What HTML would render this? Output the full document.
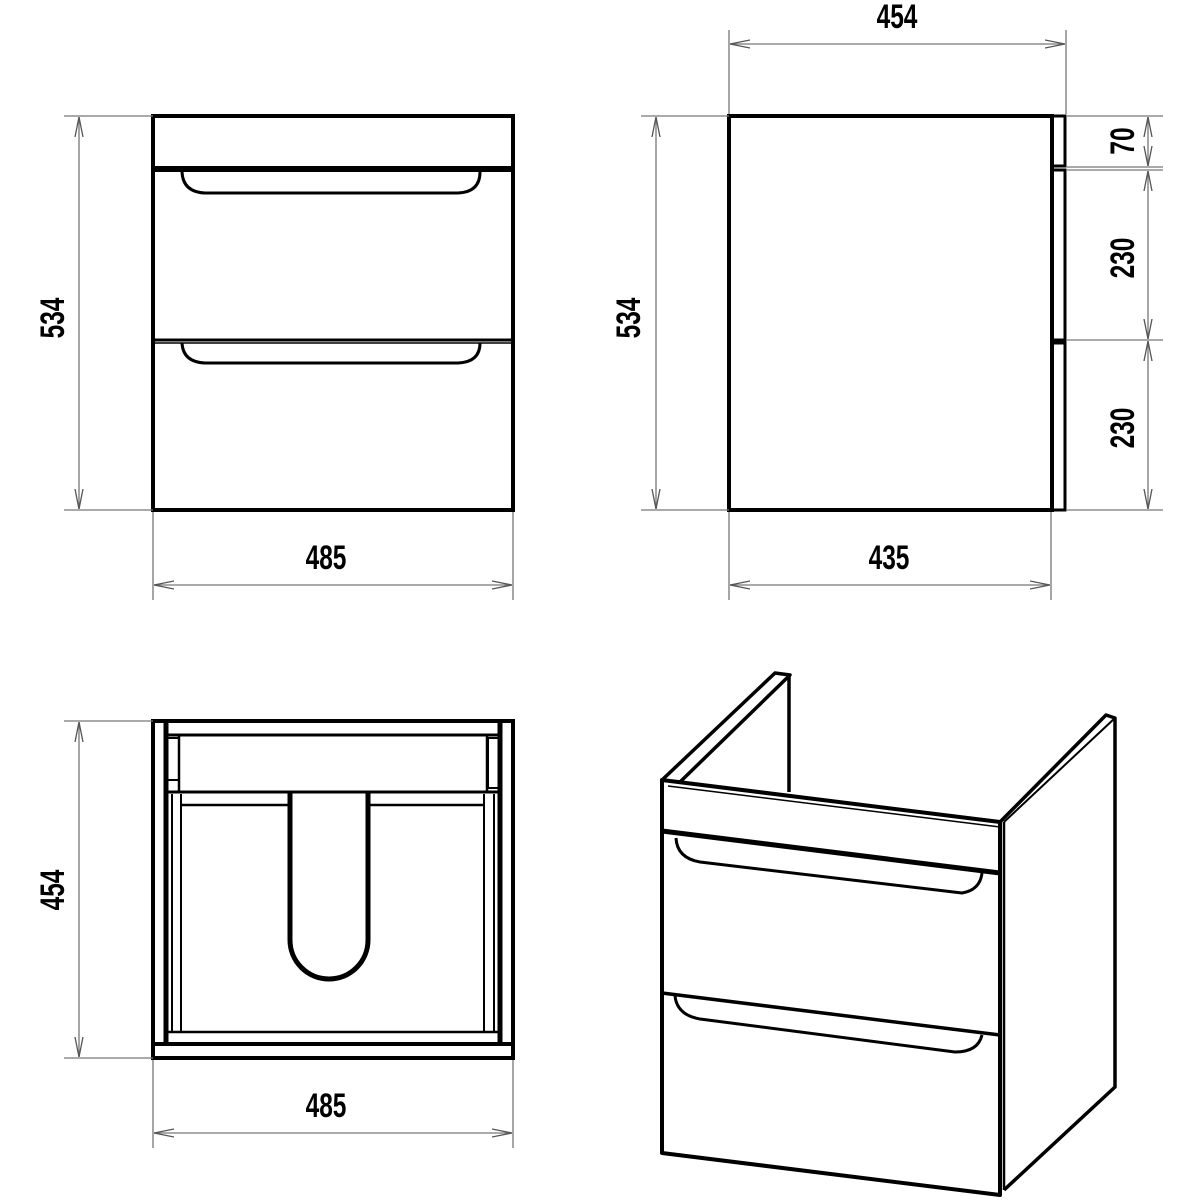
<!DOCTYPE html>
<html><head><meta charset="utf-8"><style>
html,body{margin:0;padding:0;background:#fff}
svg{display:block}
.t{font-family:"Liberation Sans",sans-serif;font-weight:bold;font-size:34px;fill:#000}
.d{stroke:#777;stroke-width:1.3;fill:none}
.k{stroke:#000;fill:none;stroke-width:4}
.k3{stroke:#000;fill:none;stroke-width:3}
</style></head><body>
<svg width="1200" height="1200" viewBox="0 0 1200 1200" xmlns="http://www.w3.org/2000/svg">
<defs>
<marker id="a" viewBox="0 0 20 10" refX="20" refY="5" markerWidth="20" markerHeight="10" orient="auto-start-reverse" markerUnits="userSpaceOnUse">
<path d="M0 1 L20 5 L0 9" fill="none" stroke="#555" stroke-width="1.3"/></marker>
</defs>

<!-- FRONT VIEW -->
<rect class="k" x="153" y="116" width="360" height="394"/>
<line x1="153" y1="169" x2="513" y2="169" stroke="#000" stroke-width="6"/>
<line x1="153" y1="340" x2="513" y2="340" stroke="#000" stroke-width="3"/>
<line x1="153" y1="343" x2="513" y2="343" stroke="#000" stroke-width="1.5"/>
<path class="k3" d="M182 172 Q183 192 205 193 L458 193 Q480 192 480 172"/>
<path class="k3" d="M182 343 Q183 362 205 363 L458 363 Q480 362 480 343"/>
<!-- dims -->
<line class="d" x1="64" y1="116" x2="153" y2="116"/>
<line class="d" x1="64" y1="510" x2="153" y2="510"/>
<line class="d" x1="79" y1="117" x2="79" y2="509" marker-start="url(#a)" marker-end="url(#a)"/>
<text class="t" transform="translate(64,318) rotate(-90) scale(0.72,1)" text-anchor="middle">534</text>
<line class="d" x1="153" y1="512" x2="153" y2="600"/>
<line class="d" x1="513" y1="512" x2="513" y2="600"/>
<line class="d" x1="154" y1="585" x2="512" y2="585" marker-start="url(#a)" marker-end="url(#a)"/>
<text class="t" transform="translate(326,569) scale(0.72,1)" text-anchor="middle">485</text>

<!-- SIDE VIEW -->
<rect class="k" x="729" y="116" width="323" height="394"/>
<rect class="k3" x="1052" y="116" width="13" height="50"/>
<rect class="k3" x="1052" y="170" width="13" height="170"/>
<rect class="k3" x="1052" y="343" width="13" height="167"/>
<line class="d" x1="729" y1="30" x2="729" y2="114"/>
<line class="d" x1="1066" y1="30" x2="1066" y2="114"/>
<line class="d" x1="730" y1="44" x2="1065" y2="44" marker-start="url(#a)" marker-end="url(#a)"/>
<text class="t" transform="translate(897,28) scale(0.72,1)" text-anchor="middle">454</text>
<line class="d" x1="641" y1="116" x2="729" y2="116"/>
<line class="d" x1="641" y1="510" x2="729" y2="510"/>
<line class="d" x1="656" y1="117" x2="656" y2="509" marker-start="url(#a)" marker-end="url(#a)"/>
<text class="t" transform="translate(640,318) rotate(-90) scale(0.72,1)" text-anchor="middle">534</text>
<line class="d" x1="729" y1="512" x2="729" y2="600"/>
<line class="d" x1="1051" y1="512" x2="1051" y2="600"/>
<line class="d" x1="730" y1="585" x2="1050" y2="585" marker-start="url(#a)" marker-end="url(#a)"/>
<text class="t" transform="translate(889,569) scale(0.72,1)" text-anchor="middle">435</text>
<line class="d" x1="1066" y1="116" x2="1163" y2="116"/>
<line class="d" x1="1066" y1="167" x2="1163" y2="167"/>
<line class="d" x1="1066" y1="170" x2="1163" y2="170"/>
<line class="d" x1="1066" y1="340" x2="1163" y2="340"/>
<line class="d" x1="1066" y1="510" x2="1163" y2="510"/>
<line class="d" x1="1148" y1="117" x2="1148" y2="166" marker-start="url(#a)" marker-end="url(#a)"/>
<line class="d" x1="1148" y1="171" x2="1148" y2="339" marker-start="url(#a)" marker-end="url(#a)"/>
<line class="d" x1="1148" y1="341" x2="1148" y2="509" marker-start="url(#a)" marker-end="url(#a)"/>
<text class="t" transform="translate(1134,141) rotate(-90) scale(0.72,1)" text-anchor="middle">70</text>
<text class="t" transform="translate(1134,258) rotate(-90) scale(0.72,1)" text-anchor="middle">230</text>
<text class="t" transform="translate(1134,428) rotate(-90) scale(0.72,1)" text-anchor="middle">230</text>

<!-- TOP VIEW -->
<rect class="k" x="153" y="721" width="360" height="337"/>
<line x1="166" y1="735" x2="500" y2="735" stroke="#000" stroke-width="3"/>
<line x1="166" y1="721" x2="166" y2="1044" stroke="#000" stroke-width="5"/>
<line x1="500" y1="721" x2="500" y2="1044" stroke="#000" stroke-width="5"/>
<line x1="153" y1="1044" x2="513" y2="1044" stroke="#000" stroke-width="4"/>
<line x1="168" y1="1032" x2="498" y2="1032" stroke="#000" stroke-width="2.5"/>
<rect x="167" y="738" width="12" height="42" fill="none" stroke="#000" stroke-width="2"/>
<rect x="488" y="738" width="11" height="50" fill="none" stroke="#000" stroke-width="2"/>
<line x1="179" y1="736" x2="179" y2="792" stroke="#000" stroke-width="2.5"/>
<line x1="487" y1="736" x2="487" y2="792" stroke="#000" stroke-width="2.5"/>
<line x1="166" y1="792" x2="500" y2="792" stroke="#000" stroke-width="3"/>
<line x1="181" y1="805" x2="290" y2="805" stroke="#000" stroke-width="2.5"/>
<line x1="368" y1="805" x2="484" y2="805" stroke="#000" stroke-width="2.5"/>
<line x1="172" y1="794" x2="172" y2="1032" stroke="#000" stroke-width="2"/>
<line x1="181" y1="794" x2="181" y2="1032" stroke="#000" stroke-width="2"/>
<line x1="494" y1="794" x2="494" y2="1032" stroke="#000" stroke-width="2"/>
<line x1="484" y1="794" x2="484" y2="1032" stroke="#000" stroke-width="2"/>
<path d="M290 793 L290 940 A39 39 0 0 0 368 940 L368 793" fill="none" stroke="#000" stroke-width="5"/>
<line class="d" x1="64" y1="721" x2="153" y2="721"/>
<line class="d" x1="64" y1="1058" x2="153" y2="1058"/>
<line class="d" x1="79" y1="722" x2="79" y2="1057" marker-start="url(#a)" marker-end="url(#a)"/>
<text class="t" transform="translate(64,890) rotate(-90) scale(0.72,1)" text-anchor="middle">454</text>
<line class="d" x1="153" y1="1060" x2="153" y2="1148"/>
<line class="d" x1="513" y1="1060" x2="513" y2="1148"/>
<line class="d" x1="154" y1="1133" x2="512" y2="1133" marker-start="url(#a)" marker-end="url(#a)"/>
<text class="t" transform="translate(326,1117) scale(0.72,1)" text-anchor="middle">485</text>

<!-- ISOMETRIC -->
<g stroke="#000" fill="none" stroke-linejoin="round">
<path d="M662 780 L775 673 L790 675 L680 782" stroke-width="3.5"/>
<line x1="789" y1="675" x2="789" y2="792" stroke-width="3.5"/>
<path d="M662 780 L1000 822 L1000 1195 L662 1153 Z" stroke-width="4"/>
<line x1="668" y1="786" x2="1000" y2="827" stroke-width="1.5"/>
<line x1="662" y1="831" x2="1000" y2="873" stroke-width="5"/>
<line x1="662" y1="993" x2="1000" y2="1035" stroke-width="3.5"/>
<line x1="1004" y1="822" x2="1004" y2="1190" stroke-width="2.5"/>
<path d="M1000 822 L1106 715 L1115 718 L1115 1087 L1004 1190" stroke-width="3.5"/>
<line x1="1004" y1="822" x2="1115" y2="718" stroke-width="2"/>
<path d="M676 838 Q677 858 700 862 L962 893 Q980 890 982 873" stroke-width="3"/>
<path d="M675 996 Q677 1015 700 1019 L955 1052 Q978 1052 982 1035" stroke-width="3"/>
</g>
</svg>
</body></html>
